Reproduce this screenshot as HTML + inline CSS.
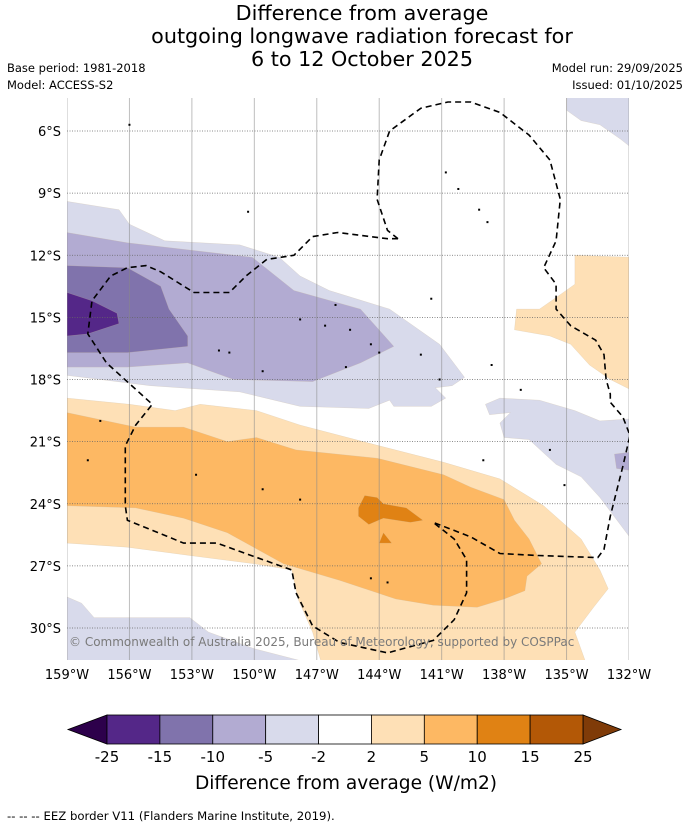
<!DOCTYPE html>
<html><head><meta charset="utf-8"><style>
html,body{margin:0;padding:0;background:#fff;}
svg{display:block;font-family:"DejaVu Sans","Liberation Sans",sans-serif;}
</style></head><body>
<svg id="chart" width="690" height="827" viewBox="0 0 690 827" xmlns="http://www.w3.org/2000/svg">
<text x="362" y="20" font-size="20.7" text-anchor="middle">Difference from average</text>
<text x="362" y="43" font-size="20.7" text-anchor="middle">outgoing longwave radiation forecast for</text>
<text x="362" y="66" font-size="20.7" text-anchor="middle">6 to 12 October 2025</text>
<text x="7" y="72" font-size="11.5">Base period: 1981-2018</text>
<text x="7" y="89" font-size="11.5">Model: ACCESS-S2</text>
<text x="683" y="72" font-size="11.5" text-anchor="end">Model run: 29/09/2025</text>
<text x="683" y="89" font-size="11.5" text-anchor="end">Issued: 01/10/2025</text>
<defs><clipPath id="mapclip"><rect x="67" y="98" width="562" height="562"/></clipPath></defs>
<g id="map" clip-path="url(#mapclip)"></g>
<g id="axes"></g>
<text x="69" y="646" font-size="12" fill="#7a7a7a">© Commonwealth of Australia 2025, Bureau of Meteorology, supported by COSPPac</text>
<g id="cbar"></g>
<text x="346" y="789" font-size="18.6" text-anchor="middle">Difference from average (W/m2)</text>
<text x="7" y="820" font-size="11.7">--  --  -- EEZ border V11 (Flanders Marine Institute, 2019).</text>
</svg>
<script>
const lonTicks=[-159,-156,-153,-150,-147,-144,-141,-138,-135,-132];
const latTicks=[-6,-9,-12,-15,-18,-21,-24,-27,-30];
const levelLabels=["-25","-15","-10","-5","-2","2","5","10","15","25"];
const levelColors=["#542788","#8073ac","#b2abd2","#d8daeb","#ffffff","#fee0b6","#fdb863","#e08214","#b35806"];
const lavender1=[[-159,-9.4],[-156.5,-9.8],[-156,-10.5],[-154.3,-11.3],[-150.7,-11.5],[-148.8,-12.1],[-147.8,-13],[-146.4,-13.7],[-143.5,-14.6],[-141.1,-16.3],[-139.9,-17.9],[-140.5,-18.3],[-141.3,-18.4],[-140.8,-18.9],[-141.5,-19.3],[-143.3,-19.3],[-143.5,-19.0],[-144.5,-19.4],[-147.8,-19.3],[-150.7,-18.6],[-155,-18.3],[-159,-17.8]];
const lavender2=[[-159,-10.9],[-156.1,-11.4],[-150.1,-12.1],[-148.1,-13.7],[-144.9,-14.6],[-143.3,-16.4],[-144.9,-17.2],[-147.2,-18.1],[-151,-18.0],[-153.2,-17.2],[-156.1,-17.4],[-159,-17.4]];
const lavender3=[[-159,-12.5],[-156.1,-12.6],[-154.5,-13.5],[-154.1,-14.6],[-153.2,-15.9],[-153.2,-16.4],[-156.1,-16.7],[-159,-16.7]];
const lavender4=[[-159,-13.8],[-157.8,-14.2],[-156.6,-14.8],[-156.5,-15.3],[-158,-15.8],[-159,-15.9]];
const lavenderBL=[[-159,-28.5],[-158.3,-28.8],[-157.7,-29.5],[-156.1,-29.5],[-153.1,-29.5],[-152.2,-30.2],[-150,-31.0],[-147.7,-31.6],[-159,-31.6]];
const lavenderR=[[-138.9,-19.2],[-138.2,-18.9],[-136.3,-19.0],[-134.6,-19.5],[-133.4,-20.0],[-131.9,-19.9],[-131.9,-25.7],[-133.4,-23.7],[-134.3,-22.7],[-135.5,-22.1],[-136.8,-20.9],[-138,-20.8],[-138.2,-20.1],[-137.7,-19.6],[-138.7,-19.7]];
const lavenderR2=[[-132.7,-21.6],[-131.9,-21.5],[-131.9,-22.4],[-132.6,-22.3]];
const lavenderTR=[[-135,-4.3],[-131.9,-4.3],[-131.9,-6.8],[-132.4,-6.4],[-133.4,-5.7],[-134.3,-5.5],[-135,-5.0]];
const orangeTR=[[-134.6,-12.0],[-131.9,-12.1],[-131.9,-18.5],[-132.9,-18.0],[-133.9,-17.3],[-134.8,-16.3],[-135.8,-15.9],[-137.5,-15.6],[-137.4,-14.6],[-136.3,-14.6],[-135.3,-13.9],[-134.6,-13.4]];
const orange1=[[-159,-18.9],[-156,-19.2],[-153.8,-19.5],[-152.6,-19.2],[-149.9,-19.5],[-147.8,-20.2],[-144,-21.2],[-140.9,-22.0],[-138.2,-22.8],[-136.1,-24.1],[-134.3,-25.7],[-133.4,-27.2],[-133,-28.1],[-133.7,-29.0],[-134.6,-30.2],[-134.1,-31.6],[-146.8,-31.6],[-147.2,-30.2],[-147.9,-28.6],[-148.2,-27.2],[-150,-26.9],[-153.1,-26.5],[-156.1,-26.1],[-159,-25.9]];
const orange2=[[-159,-19.6],[-155.7,-20.3],[-153.4,-20.3],[-151.3,-21.0],[-149.9,-20.8],[-148,-21.4],[-144.1,-21.8],[-140.9,-22.6],[-139.6,-23.2],[-138,-23.8],[-137.5,-24.8],[-136.8,-25.7],[-136.2,-26.9],[-136.9,-27.5],[-137,-28.2],[-138,-28.6],[-139.3,-29.0],[-141.4,-28.9],[-143.2,-28.6],[-145.9,-27.7],[-148.6,-26.9],[-151.3,-25.4],[-153.4,-24.7],[-155.7,-24.2],[-159,-24.1]];
const orange3a=[[-145,-24.2],[-144.7,-23.6],[-144.1,-23.7],[-143.8,-24.0],[-142.7,-24.2],[-141.9,-24.8],[-142.5,-24.9],[-143.8,-24.7],[-144.5,-25.0],[-145,-24.6]];
const orange3b=[[-144,-25.9],[-143.8,-25.4],[-143.4,-25.9]];
const eez1=[[-143.1,-11.2],[-143.6,-10.8],[-144.1,-9.3],[-144,-7.4],[-143.5,-6.0],[-142,-4.9],[-140.7,-4.6],[-139.6,-4.6],[-138.2,-5.1],[-136.8,-6.2],[-135.8,-7.4],[-135.3,-9.3],[-135.5,-11.3],[-136.1,-12.6],[-135.5,-13.4],[-135.5,-14.6],[-134.8,-15.4],[-133.6,-16.1],[-133.2,-16.8],[-133.1,-18],[-132.9,-18.7],[-132.9,-19.1],[-132.3,-19.8],[-131.95,-20.7],[-132.3,-22.2],[-132.9,-24.6],[-133.2,-26.2],[-133.5,-26.6],[-136.4,-26.5],[-138.2,-26.4],[-139.6,-25.6],[-141.4,-24.9]];
const eez2=[[-143.1,-11.2],[-143.6,-11.2],[-146,-10.9],[-147.2,-11.1],[-148.1,-12.0],[-149.4,-12.2],[-150.4,-13.0],[-151.2,-13.8],[-152.9,-13.8],[-154.5,-12.8],[-155.2,-12.5],[-156.1,-12.6],[-156.9,-13.0],[-157.8,-14.2],[-158,-15.8],[-157.1,-17.2],[-154.9,-19.2],[-155.7,-20.2],[-156.2,-21.2],[-156.2,-24.1],[-156.1,-24.8],[-155.1,-25.2],[-153.4,-25.9],[-151.8,-25.9],[-150.7,-26.3],[-148.2,-27.2],[-148,-28.3],[-147.2,-29.9],[-145.9,-30.7],[-143.6,-31.2],[-141.4,-30.6],[-140.4,-29.6],[-139.8,-28.3],[-139.8,-26.7],[-140.4,-25.7],[-141.4,-24.9]];
const islands=[[-156,-5.7],[-150.3,-9.9],[-140.8,-8.0],[-140.2,-8.8],[-139.2,-9.8],[-138.8,-10.4],[-141.5,-14.1],[-146.1,-14.4],[-147.8,-15.1],[-146.6,-15.4],[-145.4,-15.6],[-144.4,-16.3],[-144,-16.7],[-151.2,-16.7],[-151.7,-16.6],[-149.6,-17.6],[-145.6,-17.4],[-142,-16.8],[-141.1,-18],[-138.6,-17.3],[-137.2,-18.5],[-139,-21.9],[-135.8,-21.4],[-135.1,-23.1],[-158,-21.9],[-152.8,-22.6],[-149.6,-23.3],[-147.8,-23.8],[-144.4,-27.6],[-143.6,-27.8],[-157.4,-20]];

const X0=67,X1=629,Y0=98,Y1=660;
const xScale=lon=>X0+(lon-(-159))*(X1-X0)/27;
const yScale=lat=>131+((-6)-lat)*(628-131)/24;
const NS="http://www.w3.org/2000/svg";
const map=document.getElementById('map');
const axes=document.getElementById('axes');
const cbar=document.getElementById('cbar');
function mk(tag,attrs,parent){const e=document.createElementNS(NS,tag);for(const k in attrs)e.setAttribute(k,attrs[k]);parent.appendChild(e);return e;}
const pts=a=>a.map(p=>xScale(p[0]).toFixed(1)+','+yScale(p[1]).toFixed(1)).join(' ');

const fills=[[lavenderTR,"#d8daeb","lavender-top-right"],[lavender1,"#d8daeb","lavender-band-outer"],[lavender2,"#b2abd2","lavender-band-mid"],[lavender3,"#8073ac","purple-band"],[lavender4,"#542788","dark-purple-core"],[lavenderBL,"#d8daeb","lavender-bottom-left"],[lavenderR,"#d8daeb","lavender-right"],[lavenderR2,"#b2abd2","lavender-right-core"],[orangeTR,"#fee0b6","light-orange-top-right"],[orange1,"#fee0b6","light-orange-band"],[orange2,"#fdb863","orange-band"],[orange3a,"#e08214","dark-orange-core"],[orange3b,"#e08214","dark-orange-spot"]];
fills.forEach(f=>{
  const p=mk('polygon',{points:pts(f[0]),fill:f[1],stroke:"#c8b79a","stroke-width":"0.4","stroke-opacity":"0.5"},map);
  
  
});
latTicks.forEach(t=>{
  const l=mk('line',{x1:X0,x2:X1,y1:yScale(t),y2:yScale(t),stroke:"#666","stroke-width":"0.8","stroke-dasharray":"1,1.5"},map);
  
  
});
lonTicks.forEach(t=>{
  const l=mk('line',{x1:xScale(t),x2:xScale(t),y1:Y0,y2:Y1,stroke:"#888","stroke-width":"1","stroke-opacity":"0.55"},map);
  
  
});
islands.forEach(p=>{
  const c=mk('rect',{x:xScale(p[0])-1,y:yScale(p[1])-1,width:2,height:2,fill:"#000"},map);
  
  
});
[eez1,eez2].forEach(a=>{
  const l=mk('polyline',{points:pts(a),fill:"none",stroke:"#000","stroke-width":"1.6","stroke-dasharray":"6,4"},map);
  
  
});
latTicks.forEach(t=>{
  const tx=mk('text',{x:61,y:yScale(t)+5,"font-size":"13","text-anchor":"end"},axes);
  tx.textContent=Math.abs(t)+"°S";
  
  
});
lonTicks.forEach(t=>{
  const tx=mk('text',{x:xScale(t),y:679,"font-size":"13","text-anchor":"middle"},axes);
  tx.textContent=Math.abs(t)+"°W";
  
  
});
const cbX0=107,cbX1=583,cbY0=715,cbY1=744,bw=(cbX1-cbX0)/levelColors.length;
const lt=mk('polygon',{points:`68,${(cbY0+cbY1)/2} ${cbX0},${cbY0} ${cbX0},${cbY1}`,fill:"#2d004b",stroke:"#000","stroke-width":"0.8"},cbar);


const rt=mk('polygon',{points:`621,${(cbY0+cbY1)/2} ${cbX1},${cbY0} ${cbX1},${cbY1}`,fill:"#7f3b08",stroke:"#000","stroke-width":"0.8"},cbar);


levelColors.forEach((c,i)=>{
  const r=mk('rect',{x:cbX0+i*bw,y:cbY0,width:bw,height:cbY1-cbY0,fill:c,stroke:"#000","stroke-width":"0.8"},cbar);
  
  
});
levelLabels.forEach((s,i)=>{
  const tx=mk('text',{x:cbX0+i*bw,y:762,"font-size":"15","text-anchor":"middle"},cbar);
  tx.textContent=s;
  
  
});
</script>
</body></html>
